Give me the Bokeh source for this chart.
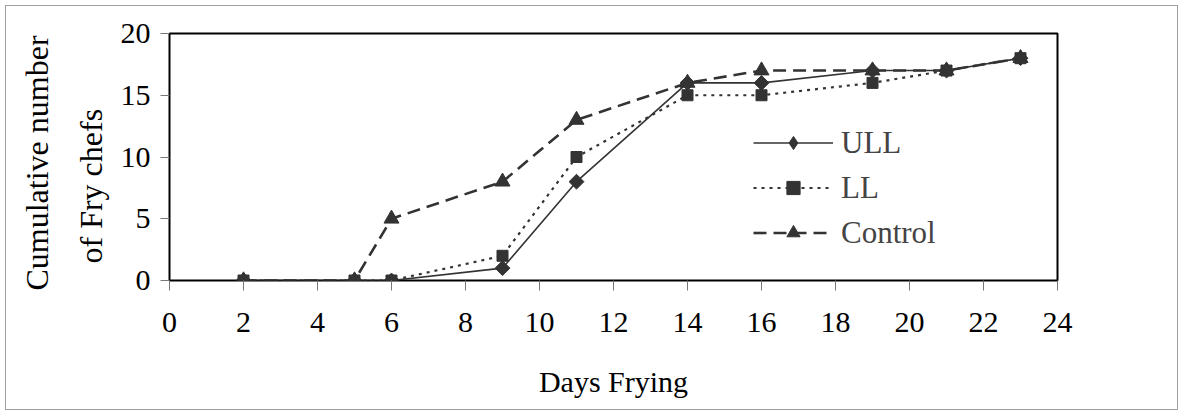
from bokeh.plotting import figure
from bokeh.models import Range1d, FixedTicker, Title, Legend, LegendItem
from bokeh.embed import file_html
from bokeh.resources import INLINE
import math

days = [2, 5, 6, 9, 11, 14, 16, 19, 21, 23]
ull = [0, 0, 0, 1, 8, 16, 16, 17, 17, 18]
ll = [0, 0, 0, 2, 10, 15, 15, 16, 17, 18]
control = [0, 0, 5, 8, 13, 16, 17, 17, 17, 18]
x_ticks = list(range(0, 25, 2))
y_ticks = [0, 5, 10, 15, 20]

FONT = "Liberation Serif"
INK = "#333333"

p = figure(width=1173, height=405, output_backend="svg", toolbar_location=None,
           x_range=Range1d(0, 24), y_range=Range1d(0, 20),
           min_border_left=163, min_border_right=122, min_border_top=27, min_border_bottom=131,
           margin=(5, 0, 0, 5), styles={"border": "1px solid #a0a0a0"})
p.grid.visible = False
p.outline_line_color = "black"
p.outline_line_width = 2
p.background_fill_color = "white"
p.border_fill_color = "white"

for ax in (p.xaxis[0], p.yaxis[0]):
    ax.axis_line_color = None
    ax.minor_tick_line_color = None
    ax.major_tick_line_color = "#777777"
    ax.major_tick_line_width = 1
    ax.major_tick_in = 0
    ax.major_label_text_font = FONT
    ax.major_label_text_font_size = "30px"
    ax.major_label_text_color = "black"
    ax.axis_label_text_font = FONT
    ax.axis_label_text_font_size = "30px"
    ax.axis_label_text_font_style = "normal"
    ax.axis_label_text_color = "black"

p.xaxis.ticker = FixedTicker(ticks=x_ticks)
p.yaxis.ticker = FixedTicker(ticks=y_ticks)
p.xaxis.major_tick_out = 10
p.yaxis.major_tick_out = 9
p.xaxis.major_label_standoff = 22
p.yaxis.major_label_standoff = 10
p.xaxis.axis_label = "Days Frying"
p.xaxis.axis_label_standoff = 30

t1 = Title(text="of Fry chefs", align="left", text_font=FONT, text_font_size="32px",
           text_font_style="normal", text_color="black", standoff=18, offset=17)
t2 = Title(text="Cumulative number", align="left", text_font=FONT, text_font_size="32px",
           text_font_style="normal", text_color="black", standoff=14, offset=-10)
p.add_layout(t1, "left")
p.add_layout(t2, "left")

# drawing order as in the reference: Control below, then ULL, LL on top
r3l = p.line(days, control, line_color=INK, line_width=2.6, line_dash="13 7")
r3m = p.scatter(days, control, marker="triangle", size=15, fill_color=INK, line_color=INK)
r1l = p.line(days, ull, line_color=INK, line_width=1.6)
# diamond used for the legend key; covered by the wider rotated square on the plot
r1k = p.scatter(days, ull, marker="diamond", size=12, fill_color=INK, line_color=INK)
r1m = p.scatter(days, ull, marker="square", angle=math.pi / 4, size=10.5,
                fill_color=INK, line_color=INK)
r2l = p.line(days, ll, line_color=INK, line_width=2.2, line_dash="3 5")
r2m = p.scatter(days, ll, marker="square", size=11, fill_color=INK, line_color=INK)

legend = Legend(items=[LegendItem(label="ULL", renderers=[r1l, r1k]),
                       LegendItem(label="LL", renderers=[r2l, r2m]),
                       LegendItem(label="Control", renderers=[r3l, r3m])],
                location=(584, 25), padding=0, margin=0, spacing=0,
                glyph_width=80, glyph_height=33, label_height=45, label_standoff=8,
                label_text_font=FONT, label_text_font_size="31px",
                border_line_color=None, background_fill_alpha=0)
p.add_layout(legend, "center")

open("out.html", "w").write(file_html(p, INLINE))
